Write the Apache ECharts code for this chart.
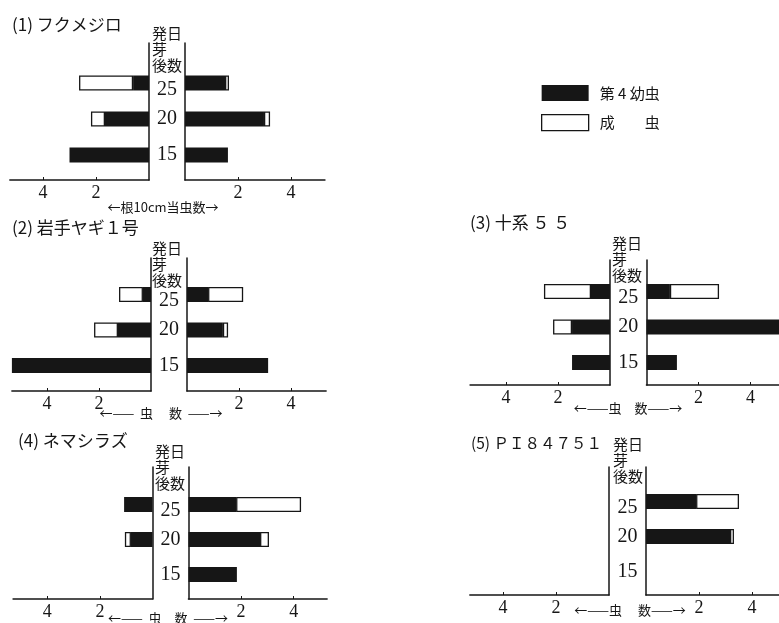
<!DOCTYPE html>
<html>
<head>
<meta charset="utf-8">
<script src="https://cdn.jsdelivr.net/npm/echarts@6/dist/echarts.min.js"></script>
</head>
<body style="margin:0;background:#fff">
<div id="main" style="width:779px;height:623px;"></div>
<script>
// 発芽後日数（下から 15, 20, 25）
var days = ['15', '20', '25'];
var larvaName = '第4幼虫', adultName = '成虫';
var tickValues = [2, 4];

// (1) フクメジロ
var p1LeftLarva = [3.0, 1.66, 0.6];
var p1LeftAdult = [null, 0.53, 2.04];
var p1RightLarva = [1.62, 2.98, 1.51];
var p1RightAdult = [null, 0.23, 0.15];
// (2) 岩手ヤギ1号
var p2LeftLarva = [5.35, 1.27, 0.31];
var p2LeftAdult = [null, 0.92, 0.92];
var p2RightLarva = [3.12, 1.38, 0.81];
var p2RightAdult = [null, 0.2, 1.35];
// (3) 十系55
var p3LeftLarva = [1.46, 1.46, 0.73];
var p3LeftAdult = [null, 0.73, 1.81];
var p3RightLarva = [1.17, 5.4, 0.9];
var p3RightAdult = [null, null, 1.89];
// (4) ネマシラズ
var p4LeftLarva = [null, 0.82, 1.08];
var p4LeftAdult = [null, 0.23, null];
var p4RightLarva = [1.84, 2.72, 1.81];
var p4RightAdult = [null, 0.34, 2.47];
// (5) PI84751
var p5LeftLarva = [null, null, null];
var p5LeftAdult = [null, null, null];
var p5RightLarva = [null, 3.17, 1.89];
var p5RightAdult = [null, 0.15, 1.62];

var panelData = [
    [p1LeftLarva, p1LeftAdult, p1RightLarva, p1RightAdult],
    [p2LeftLarva, p2LeftAdult, p2RightLarva, p2RightAdult],
    [p3LeftLarva, p3LeftAdult, p3RightLarva, p3RightAdult],
    [p4LeftLarva, p4LeftAdult, p4RightLarva, p4RightAdult],
    [p5LeftLarva, p5LeftAdult, p5RightLarva, p5RightAdult]
];

var titles = ['(1) フクメジロ', '(2) 岩手ヤギ１号', '(3) 十系 ５ ５', '(4) ネマシラズ', '(5) ＰＩ８４７５１'];
var axisNames = ['←根10cm当虫数→', '←——  虫　 数  ——→', '←——虫　数——→', '←——  虫　数  ——→', '←——虫　 数——→'];
var headText = '発日\n芽\n後数';

// 配置（px）
var layout = [
    { zl: 149, zr: 185, scale: 26.5, lMax: 5.25, rMax: 5.28, top: 43, axisY: 180, c25: 83, band: 36,
      title: [12, 25, 17], head: [152, 25], name: [163, 207] },
    { zl: 151, zr: 187, scale: 26, lMax: 5.35, rMax: 5.35, top: 258, axisY: 391, c25: 294.5, band: 35.5,
      title: [12, 228, 17], head: [152, 240], name: [161, 413] },
    { zl: 610, zr: 646.5, scale: 26, lMax: 5.38, rMax: 5.1, top: 260, axisY: 385, c25: 291.5, band: 35.5,
      title: [470, 223, 17], head: [612, 235], name: [628, 408] },
    { zl: 152.5, zr: 188.5, scale: 26.3, lMax: 5.3, rMax: 5.27, top: 467, axisY: 599, c25: 504.5, band: 35,
      title: [18, 441, 17], head: [155, 443], name: [168, 618] },
    { zl: 609, zr: 646, scale: 26.5, lMax: 5.25, rMax: 5.02, top: 467, axisY: 595, c25: 501.5, band: 35,
      title: [471, 443, 15.5], head: [613, 436], name: [630, 610] }
];

var ink = '#161616';
var jp = '"Noto Sans CJK JP", sans-serif';
var serif = '"Liberation Serif", "DejaVu Serif", serif';

var grids = [], xAxes = [], yAxes = [], series = [], graphics = [];

layout.forEach(function (L, p) {
    var sides = [
        { left: L.zl - L.lMax * L.scale, width: L.lMax * L.scale, max: L.lMax, inverse: true },
        { left: L.zr, width: L.rMax * L.scale, max: L.rMax, inverse: false }
    ];
    sides.forEach(function (s, k) {
        // 枠（軸線）
        var gi = grids.length;
        grids.push({ left: s.left, width: s.width, top: L.top, height: L.axisY - L.top, outerBoundsMode: 'none' });
        xAxes.push({
            gridIndex: gi, type: 'value', min: 0, max: s.max, inverse: s.inverse,
            axisLine: { show: true, onZero: false, lineStyle: { color: ink, width: 1.6 } },
            axisTick: { show: true, inside: true, length: 3, customValues: tickValues, lineStyle: { color: ink } },
            axisLabel: { customValues: tickValues, margin: 4, fontSize: 18, fontFamily: serif, color: ink },
            splitLine: { show: false }
        });
        yAxes.push({
            gridIndex: gi, type: 'value', min: 0, max: 1, position: k === 0 ? 'right' : 'left',
            axisLine: { show: true, onZero: false, lineStyle: { color: ink, width: 1.5 } },
            axisTick: { show: false }, axisLabel: { show: false }, splitLine: { show: false }
        });

        // 棒
        var bi = grids.length;
        grids.push({ left: s.left, width: s.width, top: L.c25 - L.band / 2, height: L.band * 3, outerBoundsMode: 'none' });
        xAxes.push({ gridIndex: bi, type: 'value', min: 0, max: s.max, inverse: s.inverse, show: false });
        yAxes.push({
            gridIndex: bi, type: 'category', data: days, show: k === 1,
            axisLine: { show: false }, axisTick: { show: false }, splitLine: { show: false },
            axisLabel: {
                margin: (L.zr - L.zl) / 2, align: 'center', fontSize: 20, fontFamily: serif, color: ink,
                // 25 の数字は見出しの下で少し下がっている
                formatter: function (v) { return v === '25' ? '{low|' + v + '}' : v; },
                rich: { low: { fontSize: 20, fontFamily: serif, color: ink, padding: [13, 0, 0, 0] } }
            }
        });
        var d = panelData[p];
        series.push({
            type: 'bar', name: larvaName, xAxisIndex: bi, yAxisIndex: bi, stack: 's' + bi,
            barWidth: 15, data: d[k * 2], itemStyle: { color: ink }, animation: false
        });
        series.push({
            type: 'bar', name: adultName, xAxisIndex: bi, yAxisIndex: bi, stack: 's' + bi,
            barWidth: 15, data: d[k * 2 + 1],
            itemStyle: { color: '#fff', borderColor: ink, borderWidth: 1.3 }, animation: false
        });
    });

    graphics.push({
        type: 'text', x: L.title[0], y: L.title[1],
        style: { text: titles[p], fontSize: L.title[2], fontFamily: jp, fill: ink, verticalAlign: 'middle' }
    });
    graphics.push({
        type: 'text', x: L.head[0], y: L.head[1],
        style: { text: headText, fontSize: 15, lineHeight: 16, fontFamily: jp, fill: ink, verticalAlign: 'top' }
    });
    graphics.push({
        type: 'text', x: L.name[0], y: L.name[1],
        style: { text: axisNames[p], fontSize: 13, fontFamily: jp, fill: ink, align: 'center', verticalAlign: 'middle' }
    });
});

var myChart = echarts.init(document.getElementById('main'));
var option = {
    backgroundColor: '#fff',
    animation: false,
    legend: {
        orient: 'vertical', left: 541, top: 85, padding: 0, icon: 'rect',
        itemWidth: 47, itemHeight: 16, itemGap: 13, selectedMode: false,
        data: [
            { name: larvaName, itemStyle: { color: ink } },
            { name: adultName, itemStyle: { color: '#fff', borderColor: ink, borderWidth: 1.3 } }
        ],
        formatter: function (n) { return n === adultName ? '成　　虫' : '第 4 幼虫'; },
        textStyle: { fontSize: 15, fontFamily: jp, color: ink, padding: [0, 0, 0, 6] }
    },
    grid: grids,
    xAxis: xAxes,
    yAxis: yAxes,
    series: series,
    graphic: graphics
};
myChart.setOption(option);
</script>
</body>
</html>
